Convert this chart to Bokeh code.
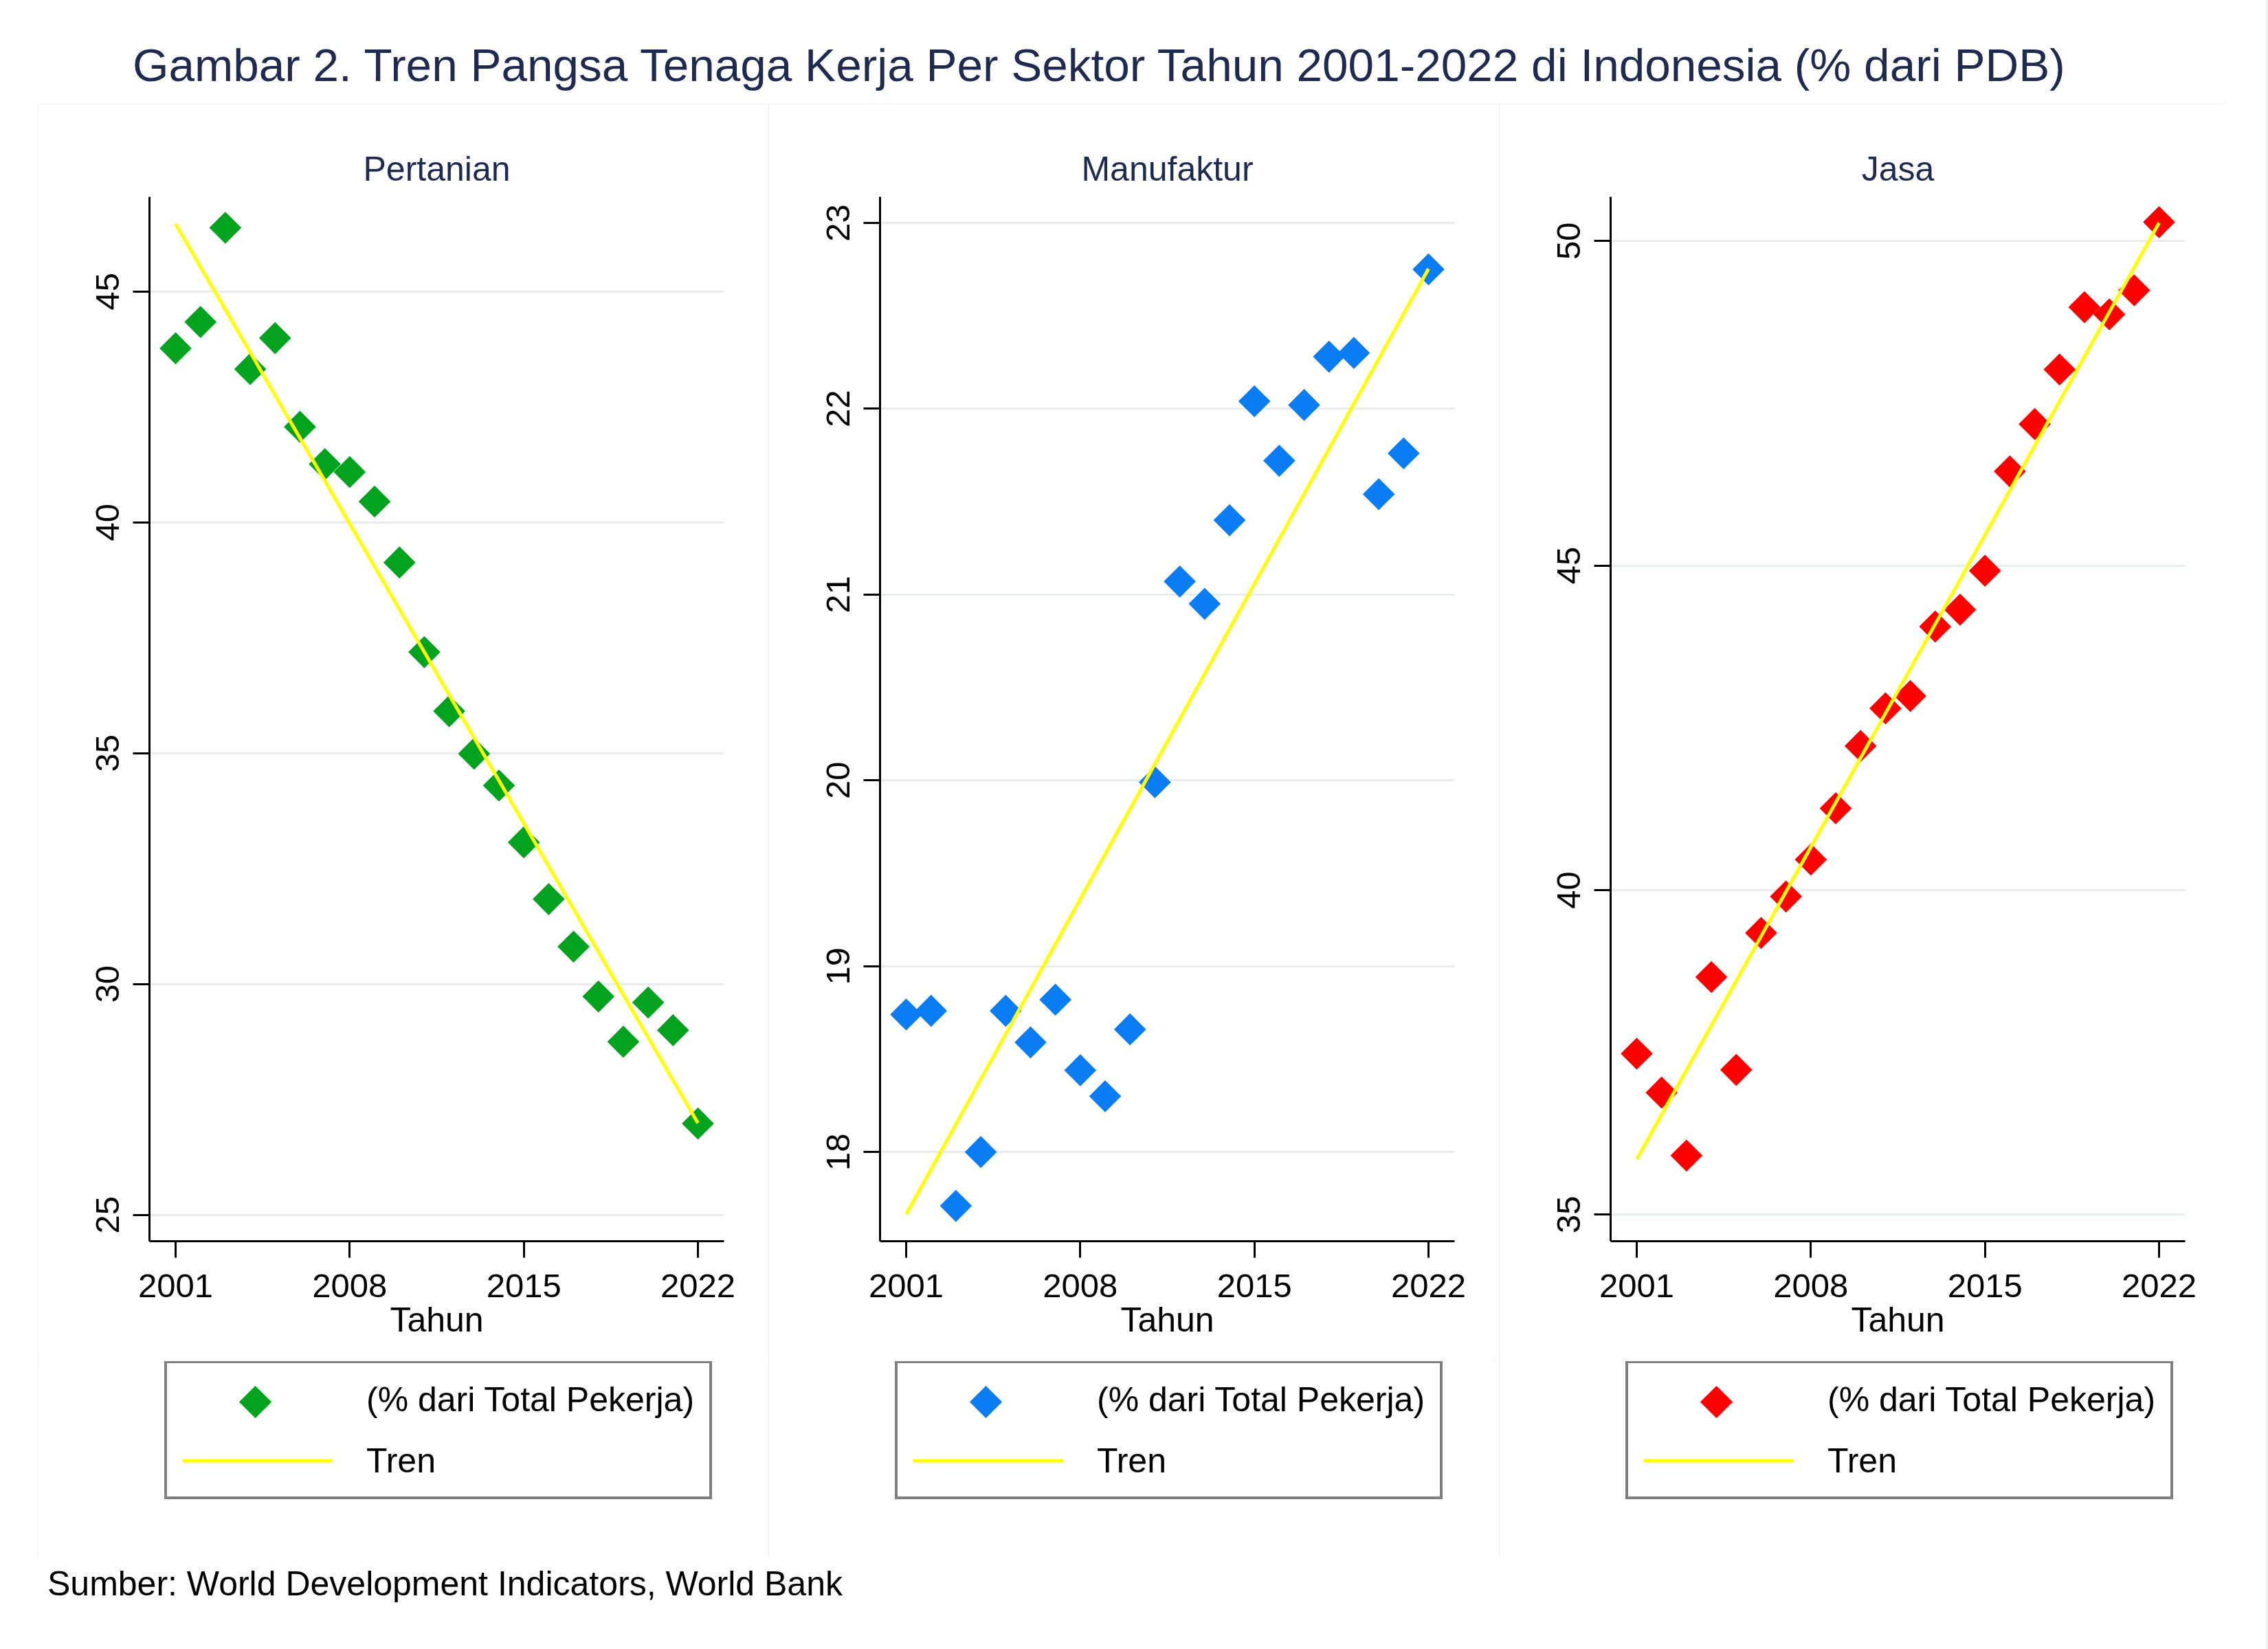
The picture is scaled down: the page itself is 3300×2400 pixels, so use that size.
import numpy as np
from bokeh.plotting import figure
from bokeh.models import (Range1d, FixedTicker, Legend, LegendItem, Div, Spacer,
                          ColumnDataSource)
from bokeh.layouts import column, row
from bokeh.embed import file_html
from bokeh.resources import INLINE

# ---------------- data ----------------
years = list(range(2001, 2023))
pertanian = [43.77, 44.34, 46.38, 43.32, 43.99, 42.07, 41.26, 41.09, 40.45, 39.13, 37.19,
             35.91, 34.99, 34.30, 33.07, 31.84, 30.81, 29.73, 28.75, 29.60, 29.00, 26.98]
manufaktur = [18.74, 18.76, 17.71, 18.00, 18.76, 18.59, 18.82, 18.44, 18.30, 18.66, 19.99,
              21.07, 20.95, 21.40, 22.04, 21.72, 22.02, 22.28, 22.30, 21.54, 21.76, 22.75]
jasa = [37.48, 36.88, 35.91, 38.66, 37.23, 39.34, 39.90, 40.47, 41.26, 42.22, 42.80,
        42.99, 44.06, 44.32, 44.92, 46.45, 47.18, 48.02, 48.98, 48.87, 49.24, 50.29]

x_ticks = [2001, 2008, 2015, 2022]
pertanian_ticks = [25, 30, 35, 40, 45]
manufaktur_ticks = [18, 19, 20, 21, 22, 23]
jasa_ticks = [35, 40, 45, 50]

panel_titles = ["Pertanian", "Manufaktur", "Jasa"]
marker_colors = ["#00A21E", "#0A7DF4", "#FF0000"]
y_limits = [(24.43, 47.05), (17.52, 23.14), (34.59, 50.68)]
x_limits = (1999.95, 2023.05)

title_text = "Gambar 2. Tren Pangsa Tenaga Kerja Per Sektor Tahun 2001-2022 di Indonesia (% dari PDB)"
source_text = "Sumber: World Development Indicators, World Bank"
x_label = "Tahun"
series_label = "(% dari Total Pekerja)"
trend_label = "Tren"

# ---------------- style ----------------
FONT = "Liberation Sans"
NAVY = "#1E2A50"
TREND = "#FFFF00"
GRID = "#E7EDED"
PANEL_W, PANEL_H = 1058, 2116
PLOT_H = 1830
LEG_H = PANEL_H - PLOT_H


def legend_key(lf, values, color):
    """Diamond key for the legend (drawn in the legend strip, data outside its view)."""
    src = ColumnDataSource(dict(x=years, y=values))
    try:
        from bokeh.models import Ngon
        glyph = Ngon(x="x", y="y", radius=23, radius_units="screen", n=4,
                     fill_color=color, line_color=None)
        return lf.add_glyph(src, glyph)
    except Exception:
        return lf.scatter("x", "y", source=src, marker="diamond",
                          fill_color=color, line_color=None)


def make_panel(name, values, yticks, color, ylim):
    coef = np.polyfit(years, values, 1)
    trend = np.polyval(coef, years)

    p = figure(width=PANEL_W, height=PLOT_H,
               x_range=Range1d(*x_limits), y_range=Range1d(*ylim),
               output_backend="svg", toolbar_location=None,
               min_border_left=162, min_border_right=60,
               min_border_top=135, min_border_bottom=PLOT_H - 135 - 1520,
               background_fill_color="white", border_fill_color="white",
               outline_line_color=None)
    p.title.text = name
    p.title.align = "center"
    p.title.text_font = FONT
    p.title.text_font_size = "50px"
    p.title.text_font_style = "normal"
    p.title.text_color = NAVY
    p.title.standoff = 25

    for ax in (p.xaxis[0], p.yaxis[0]):
        ax.axis_line_width = 3
        ax.axis_line_color = "black"
        ax.major_tick_line_width = 3
        ax.major_tick_line_color = "black"
        ax.major_tick_out = 24
        ax.major_tick_in = 0
        ax.minor_tick_line_color = None
        ax.major_label_text_font = FONT
        ax.major_label_text_font_size = "49px"
        ax.major_label_text_color = "black"
    p.xaxis.ticker = FixedTicker(ticks=x_ticks)
    p.yaxis.ticker = FixedTicker(ticks=yticks)
    p.xaxis.major_label_standoff = 24
    p.yaxis.major_label_standoff = 20
    p.yaxis.major_label_orientation = "vertical"
    p.xaxis.axis_label = x_label
    p.xaxis.axis_label_text_font = FONT
    p.xaxis.axis_label_text_font_size = "50px"
    p.xaxis.axis_label_text_font_style = "normal"
    p.xaxis.axis_label_text_color = "black"
    p.xaxis.axis_label_standoff = 2

    p.xgrid.grid_line_color = None
    p.ygrid.grid_line_color = GRID
    p.ygrid.grid_line_width = 3

    p.scatter(years, values, marker="square", size=33, angle=np.pi / 4,
              fill_color=color, line_color=None)
    p.line(years, trend, line_color=TREND, line_width=5)

    # legend strip below the plot: its frame shows only the key box,
    # the series themselves fall outside this strip's (0..1) ranges
    lf = figure(width=PANEL_W, height=LEG_H, title=None,
                x_range=Range1d(0, 1), y_range=Range1d(0, 1),
                x_axis_type=None, y_axis_type=None,
                output_backend="svg", toolbar_location=None, min_border=0,
                background_fill_color="white", border_fill_color="white",
                outline_line_color=None)
    k_pts = legend_key(lf, values, color)
    k_line = lf.line(years, trend, line_color=TREND, line_width=5)

    legend = Legend(items=[LegendItem(label=series_label, renderers=[k_pts]),
                           LegendItem(label=trend_label, renderers=[k_line])],
                    location=(22, 85), orientation="vertical",
                    glyph_width=219, glyph_height=61, label_height=61,
                    label_standoff=49, padding=22, spacing=28,
                    border_line_color="black", border_line_width=4,
                    background_fill_color="white", background_fill_alpha=1,
                    label_text_font=FONT, label_text_font_size="50px",
                    label_text_color="black", margin=0)
    lf.add_layout(legend)
    # enlarged diamond key drawn over the first row of the legend
    big_key = Legend(items=[LegendItem(label=" ", renderers=[k_pts])],
                     location=(95, 168), orientation="vertical",
                     glyph_width=118, glyph_height=118, label_height=20,
                     label_standoff=0, padding=0, spacing=0, label_width=1,
                     border_line_color=None, background_fill_color=None,
                     label_text_font=FONT, label_text_font_size="10px", margin=0)
    lf.add_layout(big_key)

    return column(p, lf, styles={"outline": "3px solid #E6ECEC", "outline-offset": "-3px"})


c1 = make_panel(panel_titles[0], pertanian, pertanian_ticks, marker_colors[0], y_limits[0])
c2 = make_panel(panel_titles[1], manufaktur, manufaktur_ticks, marker_colors[1], y_limits[1])
c3 = make_panel(panel_titles[2], jasa, jasa_ticks, marker_colors[2], y_limits[2])

title_div = Div(
    text=(f'<div style="margin-left:188px;margin-top:56px;font-family:\'{FONT}\';'
          f'font-size:67.5px;line-height:67px;color:{NAVY};white-space:nowrap">{title_text}</div>'),
    width=3284, height=141)
source_div = Div(
    text=(f'<div style="margin-left:64px;margin-top:8px;font-family:\'{FONT}\';'
          f'font-size:50px;line-height:50px;color:black;white-space:nowrap">{source_text}</div>'),
    width=3284, height=127)

panels = row(Spacer(width=55, height=PANEL_H), c1, Spacer(width=5, height=PANEL_H),
             c2, Spacer(width=5, height=PANEL_H), c3)
layout = column(title_div, panels, source_div,
                styles={"background-color": "white",
                        "outline": "5px solid #EDF1F1", "outline-offset": "3px"})

open("out.html", "w").write(file_html(layout, INLINE))
